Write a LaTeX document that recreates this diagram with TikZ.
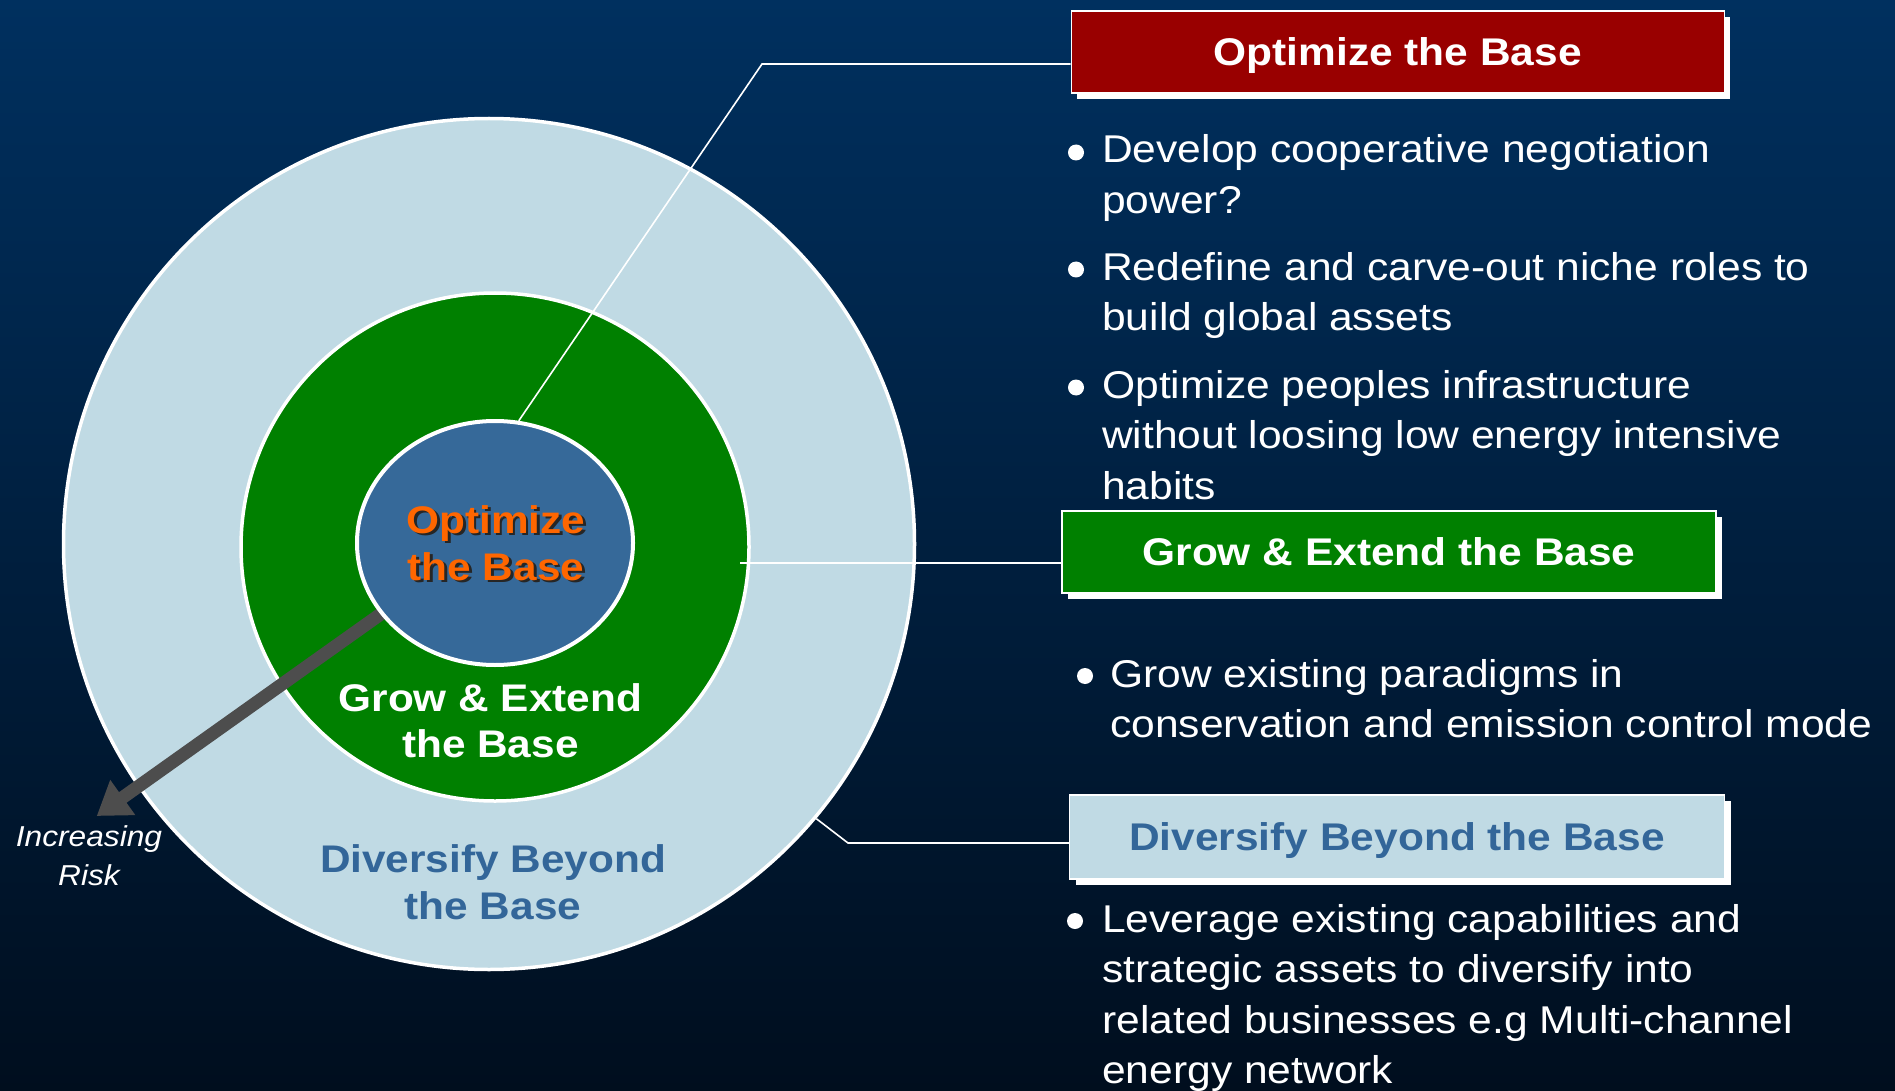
\documentclass[tikz,border=0pt]{standalone}
\usepackage{fontspec}
\setmainfont{Liberation Sans}[FakeStretch=1.1]
\usetikzlibrary{arrows.meta,shadows,shapes.geometric}
\definecolor{bgtop}{HTML}{00305F}
\definecolor{bgmid}{HTML}{002247}
\definecolor{bgbot}{HTML}{000E1E}
\definecolor{ringblue}{HTML}{C0DAE4}
\definecolor{ringgreen}{HTML}{008000}
\definecolor{coreblue}{HTML}{366999}
\definecolor{hdrred}{HTML}{990000}
\definecolor{txtblue}{HTML}{336699}
\definecolor{txtorange}{HTML}{FF6600}
\definecolor{arrowgray}{HTML}{4D4D4D}
\begin{document}
\begin{tikzpicture}[x=1pt,y=-1pt,
  hdr/.style={draw=white, line width=1.5pt, minimum width=653pt, minimum height=82pt,
    inner sep=0pt, text height=27pt, text depth=0pt,
    drop shadow={fill=white, opacity=1, shadow xshift=6pt, shadow yshift=-6pt},
    font=\bfseries\fontsize{38.6}{46}\selectfont},
  bl/.style={anchor=base west, inner sep=0pt, text=white, font=\fontsize{38.7}{46}\selectfont},
  ct/.style={anchor=base, inner sep=0pt, font=\bfseries\fontsize{38.5}{46}\selectfont},
  risk/.style={anchor=base, inner sep=0pt, text=white, font=\itshape\fontsize{28.8}{38}\selectfont},
  conn/.style={draw=white, line width=1.6pt},
  bulletdot/.style={fill=white}
]
\useasboundingbox (0,0) rectangle (1895,1091);
\shade[top color=bgtop, middle color=bgmid, bottom color=bgbot] (0,0) rectangle (1895,1091);

% rings
\node[circle, fill=ringblue, draw=white, line width=3.5pt, minimum size=851pt, inner sep=0pt] (outer) at (489,544) {};
\node[circle, fill=ringgreen, draw=white, line width=3.5pt, minimum size=508pt, inner sep=0pt] (mid) at (495,547) {};

% arrow
\coordinate (arrs) at (430,579);
\coordinate (arrt) at (96.7,816);
\draw[arrowgray, line width=13pt, -{Triangle[length=32pt,width=41pt]}] (arrs) -- (arrt);

\node[ellipse, fill=coreblue, draw=white, line width=4pt, minimum width=276pt, minimum height=244pt, inner sep=0pt] (core) at (495,543) {};

% circle texts
\node[ct, text=black!85] (o1s) at (498.5,535.5) {Optimize};
\node[ct, text=txtorange] (o1) at (496,533) {Optimize};
\node[ct, text=black!85] (o2s) at (498.5,582.5) {the Base};
\node[ct, text=txtorange] (o2) at (496,580) {the Base};

\node[ct, text=white] (g1) at (490.4,711.7) {Grow \& Extend};
\node[ct, text=white] (g2) at (490.4,757) {the Base};

\node[ct, text=txtblue] (d1) at (493,872.3) {Diversify Beyond};
\node[ct, text=txtblue] (d2) at (493,919) {the Base};

\node[risk] (r1) at (89,846.7) {Increasing};
\node[risk] (r2) at (89,885) {Risk};

% headers
\node[hdr, fill=hdrred, text=white] (h1) at (1397.75,52) {Optimize the Base};
\node[hdr, fill=ringgreen, text=white, minimum width=654pt] (h2) at (1389,552) {Grow \& Extend the Base};
\node[hdr, fill=ringblue, text=txtblue, minimum width=655pt, minimum height=84pt] (h3) at (1397,837) {Diversify Beyond the Base};

% connectors
\coordinate (c1) at (762,64);
\draw[conn] (core.79) -- (c1) -- (h1.west |- c1);
\coordinate (c2) at (740,563);
\draw[conn] (c2) -- (h2.west |- c2);
\coordinate (c3) at (848,843);
\draw[conn] (outer.-40) -- (c3) -- (h3.west |- c3);

% bullets block 1
\fill[bulletdot] (1076,152.5) circle (8pt);
\node[bl] (t11) at (1102,163) {Develop cooperative negotiation};
\node[bl] (t12) at (1102,213.5) {power?};
\fill[bulletdot] (1076,269.5) circle (8pt);
\node[bl] (t13) at (1102,280) {Redefine and carve-out niche roles to};
\node[bl] (t14) at (1102,330.5) {build global assets};
\fill[bulletdot] (1076,387.5) circle (8pt);
\node[bl] (t15) at (1102,398) {Optimize peoples infrastructure};
\node[bl] (t16) at (1102,448.5) {without loosing low energy intensive};
\node[bl] (t17) at (1102,499) {habits};

% bullets block 2
\fill[bulletdot] (1085,676) circle (8pt);
\node[bl] (t21) at (1110,687) {Grow existing paradigms in};
\node[bl] (t22) at (1110,737.5) {conservation and emission control mode};

% bullets block 3
\fill[bulletdot] (1075,921) circle (8pt);
\node[bl] (t31) at (1102,932) {Leverage existing capabilities and};
\node[bl] (t32) at (1102,982.5) {strategic assets to diversify into};
\node[bl] (t33) at (1102,1033) {related businesses e.g Multi-channel};
\node[bl] (t34) at (1102,1083.5) {energy network};
\end{tikzpicture}
\end{document}
